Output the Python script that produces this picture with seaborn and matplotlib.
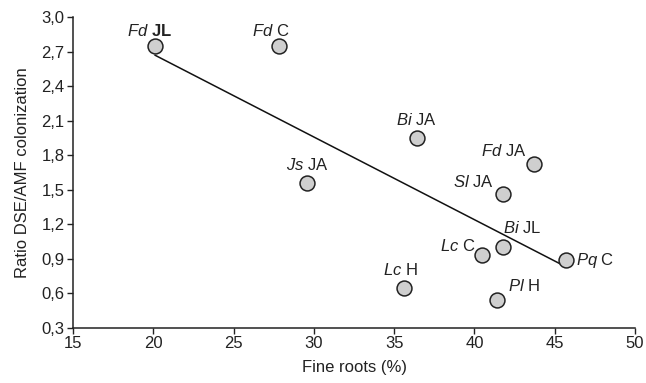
import numpy as np
import pandas as pd
import seaborn as sns
import matplotlib.pyplot as plt
from matplotlib.ticker import FuncFormatter, MultipleLocator

# values
species = ['Fd', 'Fd', 'Bi', 'Fd', 'Sl', 'Js', 'Bi', 'Lc', 'Pq', 'Lc', 'Pl']
sites = ['JL', 'C', 'JA', 'JA', 'JA', 'JA', 'JL', 'C', 'C', 'H', 'H']
fine_roots = [20.1, 27.8, 36.4, 43.7, 41.8, 29.6, 41.8, 40.5, 45.7, 35.6, 41.4]
ratio = [2.75, 2.75, 1.95, 1.72, 1.46, 1.56, 1.00, 0.93, 0.89, 0.65, 0.54]

# label offsets (pixels) relative to each point
label_dx = [-5, -8, 0, -30, -30, 0, 19, -25, 29, -3, 27]
label_dy = [15, 15, 18, 13, 12, 18, 19, 9, 0, 18, 14]

df = pd.DataFrame({'species': species, 'site': sites,
                   'fine_roots': fine_roots, 'ratio': ratio})

sns.set_style('ticks')
plt.rcParams['font.family'] = ['Liberation Sans', 'DejaVu Sans']
plt.rcParams['mathtext.fontset'] = 'custom'
plt.rcParams['mathtext.rm'] = 'Liberation Sans'
plt.rcParams['mathtext.it'] = 'Liberation Sans:italic'
plt.rcParams['mathtext.bf'] = 'Liberation Sans:bold'

fs = 12
fig = plt.figure(figsize=(6.46, 3.83), dpi=100)
ax = fig.add_axes([0.113, 0.1436, 0.870, 0.812])

sns.regplot(x='fine_roots', y='ratio', data=df, ci=None, scatter=False,
            truncate=True, line_kws={'color': '#111111', 'lw': 1.1}, ax=ax)
sns.scatterplot(x='fine_roots', y='ratio', data=df, s=115, color='#cfcfcf',
                edgecolor='#222222', linewidth=1.1, zorder=3, ax=ax)

for i, row in df.iterrows():
    site_txt = row['site']
    if i == 0:
        site_txt = r'$\mathbf{JL}$'
    label = r'$\mathit{' + row['species'] + '}$ ' + site_txt
    ax.annotate(label, (row['fine_roots'], row['ratio']),
                xytext=(label_dx[i], label_dy[i]), textcoords='offset pixels',
                ha='center', va='center', fontsize=fs, color='#222222')

ax.set_xlim(15, 50)
ax.set_ylim(0.3, 3.0)
ax.xaxis.set_major_locator(MultipleLocator(5))
ax.yaxis.set_major_locator(MultipleLocator(0.3))
ax.yaxis.set_major_formatter(FuncFormatter(lambda v, p: f'{v:.1f}'.replace('.', ',')))
ax.tick_params(labelsize=fs, length=4, width=1, pad=2, colors='#222222')
for s in ['left', 'bottom']:
    ax.spines[s].set_linewidth(1.1)
    ax.spines[s].set_color('#222222')
sns.despine(ax=ax)

ax.set_xlabel('Fine roots (%)', fontsize=fs, color='#222222', labelpad=6)
ax.set_ylabel('Ratio DSE/AMF colonization', fontsize=fs, color='#222222', labelpad=8)

plt.savefig('out.png', dpi=100)
